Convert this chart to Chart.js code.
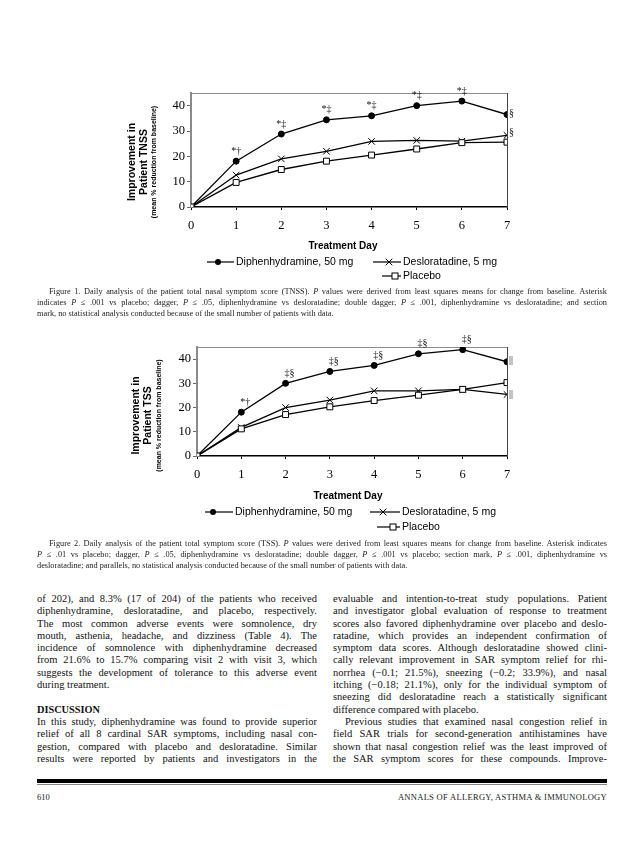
<!DOCTYPE html>
<html>
<head>
<meta charset="utf-8">
<script src="https://cdn.jsdelivr.net/npm/chart.js@4/dist/chart.umd.min.js"></script>
<style>
  html, body { margin: 0; padding: 0; background: #fff; }
  body { width: 638px; height: 854px; position: relative; overflow: hidden; font-family: 'Liberation Serif', 'Times New Roman', serif; color: #111; }
  canvas { position: absolute; }
  #c1 { left: 100px; top: 80px; }
  #c2 { left: 100px; top: 335px; }
  .caption { position: absolute; left: 37px; width: 570px; font-size: 8.3px; line-height: 11px; color: #222; }
  .col { position: absolute; font-size: 10.5px; line-height: 12.3px; color: #111; }
  .ln { text-align: justify; text-align-last: justify; white-space: nowrap; overflow: hidden; }
  .ln.end { text-align-last: left; }
  .ind { text-indent: 12px; }
  .head { font-weight: bold; font-size: 10.3px; }
  .gap { height: 12.3px; }
  #left { left: 37px; width: 280px; top: 593px; }
  #right { left: 333px; width: 274px; top: 593px; }
  #rule { position: absolute; left: 37px; width: 570px; top: 779px; height: 4px; background: #000; }
  #rule2 { position: absolute; left: 37px; width: 570px; top: 784px; height: 1px; background: #888; }
  .foot { position: absolute; top: 792px; font-size: 8.5px; line-height: 11px; color: #222; }
</style>
</head>
<body>
<canvas id="c1" width="440" height="210"></canvas>
<canvas id="c2" width="440" height="210"></canvas>

<div class="caption" style="top:286px">
  <div class="ln ind">Figure 1. Daily analysis of the patient total nasal symptom score (TNSS). <i>P</i> values were derived from least squares means for change from baseline. Asterisk</div>
  <div class="ln">indicates <i>P</i> ≤ .001 vs placebo; dagger, <i>P</i> ≤ .05, diphenhydramine vs desloratadine; double dagger, <i>P</i> ≤ .001, diphenhydramine vs desloratadine; and section</div>
  <div class="ln end">mark, no statistical analysis conducted because of the small number of patients with data.</div>
</div>

<div class="caption" style="top:538px">
  <div class="ln ind">Figure 2. Daily analysis of the patient total symptom score (TSS). <i>P</i> values were derived from least squares means for change from baseline. Asterisk indicates</div>
  <div class="ln"><i>P</i> ≤ .01 vs placebo; dagger, <i>P</i> ≤ .05, diphenhydramine vs desloratadine; double dagger, <i>P</i> ≤ .001 vs placebo; section mark, <i>P</i> ≤ .001, diphenhydramine vs</div>
  <div class="ln end">desloratadine; and parallels, no statistical analysis conducted because of the small number of patients with data.</div>
</div>

<div class="col" id="left">
  <div class="ln">of 202), and 8.3% (17 of 204) of the patients who received</div>
  <div class="ln">diphenhydramine, desloratadine, and placebo, respectively.</div>
  <div class="ln">The most common adverse events were somnolence, dry</div>
  <div class="ln">mouth, asthenia, headache, and dizziness (Table 4). The</div>
  <div class="ln">incidence of somnolence with diphenhydramine decreased</div>
  <div class="ln">from 21.6% to 15.7% comparing visit 2 with visit 3, which</div>
  <div class="ln">suggests the development of tolerance to this adverse event</div>
  <div class="ln end">during treatment.</div>
  <div class="gap"></div>
  <div class="ln end head">DISCUSSION</div>
  <div class="ln">In this study, diphenhydramine was found to provide superior</div>
  <div class="ln">relief of all 8 cardinal SAR symptoms, including nasal con-</div>
  <div class="ln">gestion, compared with placebo and desloratadine. Similar</div>
  <div class="ln">results were reported by patients and investigators in the</div>
</div>

<div class="col" id="right">
  <div class="ln">evaluable and intention-to-treat study populations. Patient</div>
  <div class="ln">and investigator global evaluation of response to treatment</div>
  <div class="ln">scores also favored diphenhydramine over placebo and deslo-</div>
  <div class="ln">ratadine, which provides an independent confirmation of</div>
  <div class="ln">symptom data scores. Although desloratadine showed clini-</div>
  <div class="ln">cally relevant improvement in SAR symptom relief for rhi-</div>
  <div class="ln">norrhea (−0.1; 21.5%), sneezing (−0.2; 33.9%), and nasal</div>
  <div class="ln">itching (−0.18; 21.1%), only for the individual symptom of</div>
  <div class="ln">sneezing did desloratadine reach a statistically significant</div>
  <div class="ln end">difference compared with placebo.</div>
  <div class="ln ind">Previous studies that examined nasal congestion relief in</div>
  <div class="ln">field SAR trials for second-generation antihistamines have</div>
  <div class="ln">shown that nasal congestion relief was the least improved of</div>
  <div class="ln">the SAR symptom scores for these compounds. Improve-</div>
</div>

<div id="rule"></div>
<div id="rule2"></div>
<div class="foot" style="left:37px">610</div>
<div class="foot" style="right:31px; letter-spacing:0.3px">ANNALS OF ALLERGY, ASTHMA &amp; IMMUNOLOGY</div>

<script>
// treatment days
const days = [0, 1, 2, 3, 4, 5, 6, 7];
const yTicks = [0, 10, 20, 30, 40];

// Figure 1: TNSS, mean % reduction from baseline
const tnssDiphenhydramine = [0, 18.1, 28.8, 34.4, 36.0, 40.0, 41.8, 36.5];
const tnssDesloratadine = [0, 12.6, 19.0, 22.0, 25.9, 26.3, 26.0, 28.3];
const tnssPlacebo = [0, 9.7, 14.8, 18.1, 20.5, 22.9, 25.4, 25.6];
const tnssMarksDiph = ['', '*†', '*‡', '*‡', '*‡', '*‡', '*‡', ''];
const tnssSideDiph = ['', '', '', '', '', '', '', '§'];
const tnssSideDeslor = ['', '', '', '', '', '', '', '§'];

// Figure 2: TSS, mean % reduction from baseline
const tssDiphenhydramine = [0, 18.1, 30.0, 34.9, 37.4, 42.2, 43.9, 38.9];
const tssDesloratadine = [0, 11.8, 20.0, 23.1, 26.9, 26.9, 27.5, 25.4];
const tssPlacebo = [0, 11.2, 17.1, 20.3, 22.9, 25.1, 27.5, 30.3];
const tssMarksDiph = ['', '*†', '‡§', '‡§', '‡§', '‡§', '‡§', ''];
const tssSideDiph = ['', '', '', '', '', '', '', '||'];
const tssSideDeslor = ['', '', '', '', '', '', '', '||'];

const seriesNames = ['Diphenhydramine, 50 mg', 'Desloratadine, 5 mg', 'Placebo'];

function drawMarker(ctx, style, x, y) {
  ctx.save();
  ctx.lineWidth = 1;
  ctx.strokeStyle = '#000';
  if (style === 'circle') {
    ctx.fillStyle = '#000';
    ctx.beginPath(); ctx.arc(x, y, 3, 0, Math.PI * 2); ctx.fill();
  } else if (style === 'crossRot') {
    const r = 3.3;
    ctx.beginPath();
    ctx.moveTo(x - r, y - r); ctx.lineTo(x + r, y + r);
    ctx.moveTo(x + r, y - r); ctx.lineTo(x - r, y + r);
    ctx.stroke();
  } else {
    ctx.fillStyle = '#fff';
    ctx.fillRect(x - 3, y - 3, 6, 6);
    ctx.strokeRect(x - 3, y - 3, 6, 6);
  }
  ctx.restore();
}

const decorations = {
  id: 'decorations',
  beforeDatasetsDraw(chart, args, o) {
    const { ctx, chartArea: a } = chart;
    ctx.save();
    ctx.strokeStyle = '#8c8c8c';
    ctx.lineWidth = 1;
    ctx.beginPath();
    ctx.moveTo(a.left, a.top + 0.5);
    ctx.lineTo(a.right + 0.5, a.top + 0.5);
    ctx.stroke();
    ctx.strokeStyle = '#444';
    ctx.beginPath();
    ctx.moveTo(a.right + 0.5, a.top);
    ctx.lineTo(a.right + 0.5, a.bottom);
    ctx.stroke();
    ctx.restore();
  },
  afterDatasetsDraw(chart, args, o) {
    const { ctx, chartArea: a } = chart;
    ctx.save();
    ctx.fillStyle = '#111';
    ctx.font = '10px "Liberation Serif", serif';
    ctx.textBaseline = 'middle';
    // marks above diphenhydramine points
    const m0 = chart.getDatasetMeta(0).data;
    o.above.forEach((s, i) => {
      if (!s) return;
      ctx.textAlign = 'center';
      ctx.fillText(s, m0[i].x + o.aboveDx, m0[i].y - 10);
    });
    // marks to the right of last points
    o.side.forEach((arr, d) => {
      const pts = chart.getDatasetMeta(d).data;
      arr.forEach((s, i) => {
        if (!s) return;
        ctx.textAlign = 'left';
        ctx.fillText(s, pts[i].x + 2, pts[i].y + o.sideDy[d]);
      });
    });

    // y axis title, three lines rotated
    ctx.fillStyle = '#000';
    ctx.textAlign = 'center';
    const yc = (a.top + a.bottom) / 2 + o.titleDy;
    o.yTitle.forEach((t, i) => {
      ctx.save();
      ctx.translate(a.left + o.yTitleX[i], yc);
      ctx.rotate(-Math.PI / 2);
      ctx.font = i < 2 ? 'bold 10.5px "Liberation Sans", Arial, sans-serif' : 'bold 7px "Liberation Sans", Arial, sans-serif';
      ctx.fillText(t, 0, 0);
      ctx.restore();
    });

    // x axis title
    ctx.font = 'bold 10px "Liberation Sans", Arial, sans-serif';
    ctx.fillText('Treatment Day', o.xTitle[0], o.xTitle[1]);

    // legend
    ctx.font = '10.5px "Liberation Sans", Arial, sans-serif';
    ctx.textAlign = 'left';
    o.legend.forEach((L, d) => {
      const ds = chart.data.datasets[d];
      ctx.strokeStyle = '#000';
      ctx.lineWidth = 1.2;
      ctx.beginPath();
      ctx.moveTo(L.x0, L.y); ctx.lineTo(L.x1, L.y);
      ctx.stroke();
      drawMarker(ctx, ds.pointStyle, L.m, L.y);
      ctx.fillStyle = '#000';
      ctx.fillText(ds.label, L.x1 + 2, L.y);
    });
    ctx.restore();
  }
};

function makeChart(id, diph, deslor, plac, above, sideDiph, sideDeslor, yLabel, leftW, padTop, deco) {
  const mk = (label, vals, style, order, radius, bg) => ({
    label,
    data: days.map((d, i) => ({ x: d, y: vals[i] })),
    borderColor: '#000',
    borderWidth: 1.3,
    pointStyle: style,
    pointRadius: radius,
    pointBorderWidth: 1,
    pointBackgroundColor: bg,
    pointBorderColor: '#000',
    order,
    tension: 0
  });
  return new Chart(document.getElementById(id), {
    type: 'line',
    data: {
      datasets: [
        mk(seriesNames[0], diph, 'circle', 3, 3, '#000'),
        mk(seriesNames[1], deslor, 'crossRot', 2, 4.6, '#000'),
        mk(seriesNames[2], plac, 'rect', 1, 4.2, '#fff')
      ]
    },
    options: {
      responsive: false,
      animation: false,
      events: [],
      layout: { padding: { top: padTop, right: 33, left: 0, bottom: 0 } },
      plugins: {
        legend: { display: false },
        tooltip: { enabled: false },
        decorations: Object.assign({
          above,
          side: [sideDiph, sideDeslor],
          yTitle: ['Improvement in', yLabel, '(mean % reduction from baseline)']
        }, deco)
      },
      scales: {
        x: {
          type: 'linear',
          min: 0, max: 7,
          afterBuildTicks: s => { s.ticks = days.map(v => ({ value: v })); },
          afterFit: s => { s.height = 210 - padTop - deco.plotH; },
          ticks: { color: '#000', padding: 8, font: { family: '"Liberation Serif", serif', size: 12.5 } },
          grid: { display: true, drawOnChartArea: false, drawTicks: true, tickLength: 3, color: '#000' },
          border: { display: true, color: '#000', width: 1.5 }
        },
        y: {
          min: 0, max: 45,
          afterBuildTicks: s => { s.ticks = yTicks.map(v => ({ value: v })); },
          afterFit: s => { s.width = leftW; },
          ticks: { color: '#000', padding: 2, font: { family: '"Liberation Serif", serif', size: 12.5 } },
          grid: { display: true, drawOnChartArea: false, drawTicks: true, tickLength: 4, color: '#666' },
          border: { display: true, color: '#8a8a8a', width: 2 }
        }
      }
    },
    plugins: [decorations]
  });
}

makeChart('c1', tnssDiphenhydramine, tnssDesloratadine, tnssPlacebo,
  tnssMarksDiph, tnssSideDiph, tnssSideDeslor, 'Patient TNSS', 91, 13, {
    plotH: 114,
    aboveDx: 0,
    sideDy: [-1, -3],
    titleDy: 12,
    yTitleX: [-59, -47, -37],
    xTitle: [243, 166],
    legend: [
      { x0: 107, x1: 134, m: 118, y: 182 },
      { x0: 273, x1: 301, m: 289, y: 182 },
      { x0: 282, x1: 301, m: 295, y: 196 }
    ]
  });

makeChart('c2', tssDiphenhydramine, tssDesloratadine, tssPlacebo,
  tssMarksDiph, tssSideDiph, tssSideDeslor, 'Patient TSS', 97, 12, {
    plotH: 109,
    aboveDx: 4,
    sideDy: [-1, 0],
    titleDy: 14,
    yTitleX: [-61, -49, -38],
    xTitle: [248, 161],
    legend: [
      { x0: 105, x1: 133, m: 113, y: 177 },
      { x0: 270, x1: 300, m: 283, y: 177 },
      { x0: 277, x1: 300, m: 293, y: 192 }
    ]
  });
</script>
</body>
</html>
